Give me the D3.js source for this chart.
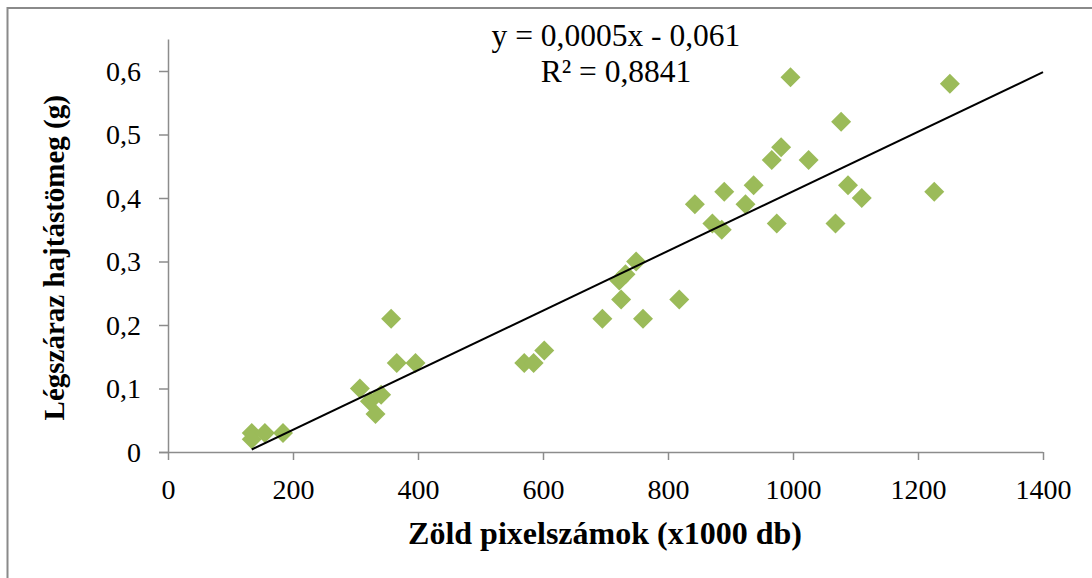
<!DOCTYPE html>
<html>
<head>
<meta charset="utf-8">
<script src="https://cdn.jsdelivr.net/npm/d3@7"></script>
<style>
  html, body { margin: 0; padding: 0; background: #fff; }
  svg { display: block; }
</style>
</head>
<body>
<svg id="chart" width="1092" height="578"></svg>
<script>
// Data
const pixelCounts = [134, 134, 155, 184, 307, 323, 332, 341, 357, 366, 396,
  570, 585, 602, 695, 722, 725, 732, 749, 760, 818,
  843, 871, 886, 890, 924, 937, 966, 974, 981, 996, 1025, 1068, 1077, 1088, 1110, 1226, 1251];
const dryMass = [0.03, 0.02, 0.03, 0.03, 0.10, 0.08, 0.06, 0.09, 0.21, 0.14, 0.14,
  0.14, 0.14, 0.16, 0.21, 0.27, 0.24, 0.28, 0.30, 0.21, 0.24,
  0.39, 0.36, 0.35, 0.41, 0.39, 0.42, 0.46, 0.36, 0.48, 0.59, 0.46, 0.36, 0.52, 0.42, 0.40, 0.41, 0.58];
const xTicks = [0, 200, 400, 600, 800, 1000, 1200, 1400];
const yTicks = [0, 0.1, 0.2, 0.3, 0.4, 0.5, 0.6];
const equationLabels = ["y = 0,0005x - 0,061", "R² = 0,8841"];
const xTitle = "Zöld pixelszámok (x1000 db)";
const yTitle = "Légszáraz hajtástömeg (g)";

const svg = d3.select("#chart");
const W = 1092, H = 578;
const x = d3.scaleLinear().domain([0, 1400]).range([168, 1043]);
const y = d3.scaleLinear().domain([0, 0.6]).range([452, 71]);
const yTop = y.invert(39.5);
const font = "'Liberation Serif', 'Times New Roman', serif";
const axisColor = "#8c8c8c";

// outer frame (left & top visible)
svg.append("path")
  .attr("d", `M7.5,${H} L7.5,8 L${W},8`)
  .attr("fill", "none").attr("stroke", "#8a8a8a").attr("stroke-width", 2);

// axes
const xAxis = d3.axisBottom(x).tickValues(xTicks).tickSize(8).tickSizeOuter(0)
  .tickFormat(d => d3.format("d")(d));
const gx = svg.append("g").attr("transform", `translate(0,${y(0)})`).call(xAxis);
gx.select(".domain").attr("stroke", axisColor).attr("stroke-width", 1.5)
  .attr("d", `M${x(0) - 9},0.5H${x(1400)}`);
gx.selectAll(".tick line").attr("stroke", axisColor).attr("stroke-width", 1.5);
gx.selectAll(".tick text").attr("font-family", font).attr("font-size", 28)
  .attr("fill", "#000").attr("dy", 0).attr("y", 47);

const yAxis = d3.axisLeft(y).tickValues(yTicks).tickSize(9).tickSizeOuter(0)
  .tickFormat(d => d === 0 ? "0" : d3.format(".1f")(d).replace(".", ","));
const gy = svg.append("g").attr("transform", `translate(${x(0)},0)`).call(yAxis);
gy.select(".domain").attr("stroke", axisColor).attr("stroke-width", 1.5)
  .attr("d", `M0.5,${y(0)}V${y(yTop)}`);
gy.selectAll(".tick line").attr("stroke", axisColor).attr("stroke-width", 1.5);
gy.selectAll(".tick text").attr("font-family", font).attr("font-size", 28)
  .attr("fill", "#000").attr("x", -27).attr("dy", "0.33em");

// markers
const pts = pixelCounts.map((v, i) => [v, dryMass[i]]);
svg.append("g").selectAll("path").data(pts).join("path")
  .attr("d", d3.symbol().type(d3.symbolSquare).size(200))
  .attr("transform", d => `translate(${x(d[0])},${y(d[1])}) rotate(45)`)
  .attr("fill", "#9BBB59");

// linear trendline (least squares), drawn from min x to axis end
const mx = d3.mean(pixelCounts), my = d3.mean(dryMass);
const sxy = d3.sum(pts, d => (d[0] - mx) * (d[1] - my));
const sxx = d3.sum(pts, d => (d[0] - mx) ** 2);
const slope = sxy / sxx, intercept = my - slope * mx;
const x0 = d3.min(pixelCounts), x1 = 1400;
svg.append("line")
  .attr("x1", x(x0)).attr("y1", y(slope * x0 + intercept))
  .attr("x2", x(x1)).attr("y2", y(slope * x1 + intercept))
  .attr("stroke", "#000").attr("stroke-width", 2);

// equation labels
svg.append("g").selectAll("text").data(equationLabels).join("text")
  .attr("x", 616).attr("y", (d, i) => 46 + i * 36)
  .attr("text-anchor", "middle").attr("font-family", font).attr("font-size", 31.5)
  .attr("fill", "#000").text(d => d);

// axis titles
svg.append("text").attr("x", 605).attr("y", 544)
  .attr("text-anchor", "middle").attr("font-family", font).attr("font-size", 32)
  .attr("font-weight", "bold").attr("fill", "#000").text(xTitle);
svg.append("text")
  .attr("transform", `translate(64,${(y(0) + y(yTop)) / 2 + 12}) rotate(-90)`)
  .attr("text-anchor", "middle").attr("font-family", font).attr("font-size", 29)
  .attr("font-weight", "bold").attr("fill", "#000").text(yTitle);
</script>
</body>
</html>
